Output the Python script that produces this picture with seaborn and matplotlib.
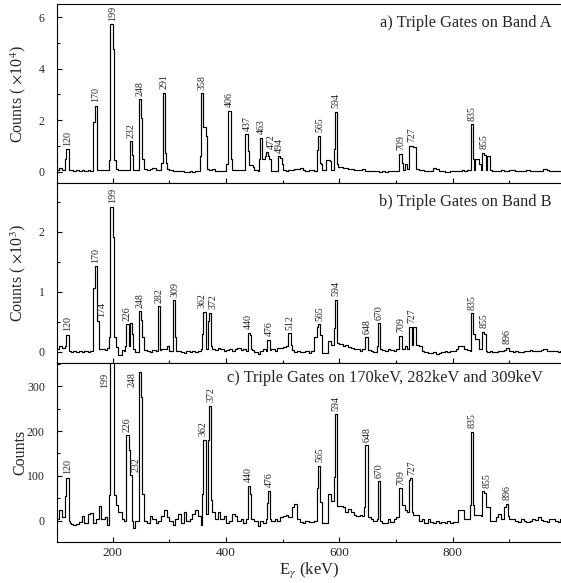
import numpy as np
import matplotlib
matplotlib.use("Agg")
import matplotlib.pyplot as plt
import seaborn as sns
from matplotlib.ticker import MultipleLocator, NullFormatter

# ---------------------------------------------------------------- data
bg_start_keV = 100      # background read in 5-keV blocks, 100 ... 990 keV
bg_step_keV = 5

# panel a  (counts x 10^4)
a_background = [
    0.05, 0.16, 0.08, 0.06, 0.06, 0.05, 0.04, 0.05, 0.04, 0.05,
    0.04, 0.05, 0.04, 0.05, 0.06, 0.08, 0.06, 0.05, 0.06, 0.45,
    0.45, 0.10, 0.08, 0.06, 0.07, 0.06, 0.10, 0.08, 0.07, 0.10,
    0.50, 0.12, 0.08, 0.10, 0.16, 0.06, 0.05, 0.08, 0.35, 0.10,
    0.05, 0.04, 0.03, 0.02, 0.01, 0.00, 0.00, 0.01, 0.00, 0.01,
    0.02, 0.05, 0.15, 0.10, 0.08, 0.10, 0.04, 0.03, 0.03, 0.02,
    0.30, 0.06, 0.08, 0.05, 0.06, 0.05, 0.06, 0.35, 0.25, 0.20,
    0.06, 0.04, 0.50, 0.50, 0.60, 0.50, 0.04, 0.03, 0.04, 0.30,
    0.05, 0.04, 0.05, 0.05, 0.10, 0.12, 0.15, 0.05, 0.04, 0.06,
    0.05, 0.04, 0.20, 0.30, 0.06, 0.45, 0.40, 0.06, 0.30, 0.20,
    0.18, 0.15, 0.14, 0.12, 0.10, 0.08, 0.06, 0.05, 0.12, 0.04,
    0.02, 0.03, 0.02, 0.01, 0.00, 0.01, 0.00, 0.01, 0.02, 0.03,
    0.04, 0.06, 0.08, 0.30, 0.10, 0.10, 0.95, 0.12, 0.06, 0.05,
    0.04, 0.03, 0.04, 0.15, 0.12, 0.03, 0.01, 0.00, 0.00, 0.01,
    0.02, 0.03, 0.04, 0.05, 0.04, 0.05, 0.06, 0.06, 0.50, 0.30,
    0.06, 0.05, 0.60, 0.06, 0.04, 0.03, 0.04, 0.05, 0.03, 0.04,
    0.06, 0.05, 0.04, 0.03, 0.04, 0.03, 0.05, 0.04, 0.03, 0.04,
    0.03, 0.04, 0.10, 0.06, 0.04, 0.03, 0.04, 0.03, 0.04,
]
a_peak_keV   = [120, 170, 199, 232, 248, 291, 358, 362, 406, 437, 447, 463, 472, 494, 565, 582, 594, 709, 727, 835, 855]
a_peak_top   = [0.87, 2.56, 5.73, 1.18, 2.81, 3.07, 3.04, 1.72, 2.37, 1.46, 0.26, 1.31, 0.76, 0.60, 1.39, 0.45, 2.32, 0.69, 1.00, 1.85, 0.74]
a_peak_left  = [0.50, 1.94, 0.45, 0.00, 0.00, 0.35, 0.60, 0.00, 0.30, 0.00, 0.00, 0.50, 0.60, 0.00, 0.84, 0.00, 0.87, 0.00, 1.00, 0.00, 0.00]
a_peak_right = [0.00, 0.00, 4.77, 0.65, 2.07, 0.74, 1.72, 1.40, 0.48, 0.80, 0.00, 0.00, 0.60, 0.55, 0.35, 0.00, 0.30, 0.35, 1.00, 0.50, 0.65]
a_labels = [120, 170, 199, 232, 248, 291, 358, 406, 437, 463, 472, 494, 565, 594, 709, 727, 835, 855]

# panel b  (counts x 10^3)
b_background = [
    0.04, 0.10, 0.06, 0.08, 0.01, 0.00, 0.02, -0.01, 0.01, 0.00,
    0.01, -0.01, 0.02, 0.03, 0.04, 0.05, 0.05, 0.03, 0.06, 0.25,
    0.25, 0.08, -0.05, 0.03, 0.01, 0.02, 0.03, 0.05, 0.00, 0.03,
    0.25, 0.03, 0.02, 0.00, 0.03, 0.01, 0.03, 0.05, 0.04, 0.10,
    0.02, 0.03, 0.02, 0.02, 0.00, -0.02, 0.01, -0.01, 0.02, 0.00,
    0.01, 0.05, 0.05, 0.05, 0.08, 0.04, 0.03, 0.06, 0.04, 0.02,
    0.03, 0.05, 0.02, 0.04, 0.07, 0.03, 0.05, 0.02, 0.05, 0.03,
    0.00, -0.03, 0.02, 0.04, 0.02, 0.03, 0.05, 0.01, 0.06, 0.07,
    0.08, 0.10, 0.12, 0.03, 0.00, 0.01, -0.01, 0.00, 0.02, -0.02,
    0.01, 0.25, 0.40, 0.28, -0.02, -0.02, 0.18, 0.12, 0.40, 0.15,
    0.13, 0.10, 0.11, 0.08, 0.06, 0.05, 0.04, 0.02, 0.05, 0.03,
    0.03, 0.02, 0.00, 0.03, 0.05, 0.03, 0.02, 0.05, 0.03, 0.02,
    0.04, 0.03, 0.05, 0.10, 0.04, 0.05, 0.42, 0.12, 0.10, 0.02,
    0.00, -0.02, -0.02, 0.00, -0.03, -0.02, 0.00, 0.01, 0.00, 0.01,
    0.02, 0.05, 0.10, 0.10, 0.04, 0.03, 0.02, 0.30, 0.22, 0.05,
    0.05, 0.02, 0.00, 0.01, -0.01, 0.00, 0.01, 0.02, 0.03, 0.06,
    0.02, 0.00, 0.01, -0.01, 0.00, 0.02, 0.01, 0.03, 0.02, 0.01,
    0.02, 0.03, 0.05, 0.02, 0.01, 0.02, 0.01, 0.00, 0.01,
]
b_peak_keV   = [120, 170, 174, 199, 226, 232, 248, 282, 309, 362, 372, 440, 476, 512, 565, 594, 648, 670, 709, 727, 835, 855, 896]
b_peak_top   = [0.28, 1.43, 0.52, 2.42, 0.46, 0.48, 0.68, 0.76, 0.86, 0.67, 0.65, 0.32, 0.20, 0.31, 0.46, 0.87, 0.24, 0.48, 0.27, 0.42, 0.64, 0.33, 0.07]
b_peak_left  = [0.10, 1.07, 0.00, 0.25, 0.10, 0.00, 0.00, 0.00, 0.00, 0.30, 0.51, 0.00, 0.20, 0.00, 0.42, 0.40, 0.00, 0.10, 0.00, 0.42, 0.00, 0.00, 0.00]
b_peak_right = [0.00, 0.00, 0.00, 1.92, 0.10, 0.30, 0.53, 0.00, 0.25, 0.00, 0.10, 0.28, 0.00, 0.00, 0.28, 0.15, 0.00, 0.00, 0.00, 0.12, 0.30, 0.30, 0.00]
b_labels = [120, 170, 174, 199, 226, 248, 282, 309, 362, 372, 440, 476, 512, 565, 594, 648, 670, 709, 727, 835, 855, 896]

# panel c  (counts)
c_background = [
    5, 25, 8, 5, -5, -8, -10, -6, -3, 10,
    -5, 15, 18, -5, 5, 33, 5, 8, -10, 57,
    57, 35, 20, 5, 0, 5, 0, -15, 0, 10,
    60, 0, -5, 10, 5, -5, 0, 10, 25, 8,
    0, -10, 5, 15, -5, 20, 0, 5, 15, 25,
    10, -10, 15, 15, 40, 20, 5, 20, 5, 10,
    -5, 0, 15, 10, 0, 5, -5, 5, 5, 5,
    0, -12, 0, -5, 5, 5, 0, 5, 0, 8,
    10, 12, 8, 30, 37, 5, -3, -5, 0, -3,
    -2, 0, 10, 42, -5, -5, 60, 45, 20, 33,
    33, 30, 20, 27, 20, 12, 10, 12, 10, 9,
    9, 5, 0, 5, 0, -5, -5, 3, -2, 5,
    9, 9, 35, 24, 20, 20, 12, 12, 0, 5,
    -5, 3, -3, -5, 0, -5, -3, -5, 0, -4,
    -2, -3, 25, 25, 3, 3, 12, 12, 12, 12,
    10, 30, 30, 0, 0, 8, 15, 5, 31, 10,
    5, 3, 0, -2, 3, 0, -3, 0, 5, 2,
    8, 2, 0, -2, 5, 3, 0, -2, 3,
]
c_peak_keV   = [120, 199, 226, 232, 248, 362, 372, 440, 476, 565, 594, 648, 670, 709, 727, 835, 855, 896]
c_peak_top   = [96, 600, 191, 101, 332, 181, 256, 78, 67, 123, 237, 168, 88, 73, 95, 198, 66, 38]
c_peak_left  = [55, 57, 0, 0, 0, 60, 179, 0, 40, 74, 98, 31, 0, 0, 90, 35, 0, 31]
c_peak_right = [0, 500, 157, 0, 277, 0, 46, 60, 0, 42, 33, 0, 0, 35, 12, 35, 62, 0]
c_labels = [120, 199, 226, 232, 248, 362, 372, 440, 476, 565, 594, 648, 670, 709, 727, 835, 855, 896]

titles = ["a) Triple Gates on Band A",
          "b) Triple Gates on Band B",
          "c) Triple Gates on 170keV, 282keV and 309keV"]
ylabels = ["Counts ( $\\times$10$^{4}$)", "Counts ( $\\times$10$^{3}$)", "Counts"]

# ---------------------------------------------------------------- style
sns.set_theme(style="ticks")
plt.rcParams["font.family"] = ["Liberation Serif", "DejaVu Serif"]
plt.rcParams["mathtext.fontset"] = "stix"
plt.rcParams["xtick.direction"] = "in"
plt.rcParams["ytick.direction"] = "in"

BIN = 2
grid = np.arange(100, 992, BIN)
LABEL_FS = 7.2


def build(bg, keV, top, left, right):
    idx = np.minimum((grid - bg_start_keV) // bg_step_keV, len(bg) - 1).astype(int)
    y = np.asarray(bg, float)[idx]

    def put(e, v):
        i = int((e - grid[0]) // BIN)
        if 0 <= i < len(y):
            y[i] = max(y[i], v)

    for k, t, l, r in zip(keV, top, left, right):
        put(k - 4, l)
        put(k - 2, t)
        put(k, t)
        put(k + 2, r)
    return y


panels = [
    dict(y=build(a_background, a_peak_keV, a_peak_top, a_peak_left, a_peak_right),
         labels=a_labels, ylim=(-0.45, 6.5), major=2, minor=1, nudge={472: 3.2, 463: -0.5}),
    dict(y=build(b_background, b_peak_keV, b_peak_top, b_peak_left, b_peak_right),
         labels=b_labels, ylim=(-0.18, 2.81), major=1, minor=0.5,
         nudge={174: 2.8, 362: -1.6, 372: 1.8}),
    dict(y=build(c_background, c_peak_keV, c_peak_top, c_peak_left, c_peak_right),
         labels=c_labels, ylim=(-46.6, 352.5), major=100, minor=50,
         nudge={232: 3.8, 855: 2.2, 362: -0.8, 372: 0.8}),
]

fig = plt.figure(figsize=(5.61, 5.83), dpi=100)
left, width = 0.101, 0.899
bottoms = [0.6856, 0.3782, 0.0708]
height = 0.3072
title_pos = [(0.982, 0.896), (0.982, 0.896), (0.964, 0.913)]

for p, (panel, bottom) in enumerate(zip(panels, bottoms)):
    ax = fig.add_axes([left, bottom, width, height])
    sns.lineplot(x=grid + BIN / 2, y=panel["y"], ax=ax, color="black", linewidth=0.85,
                 drawstyle="steps-mid", estimator=None, errorbar=None)
    ax.set_xlim(101, 991)
    ax.set_ylim(*panel["ylim"])
    ax.xaxis.set_major_locator(MultipleLocator(200))
    ax.xaxis.set_minor_locator(MultipleLocator(100))
    ax.yaxis.set_major_locator(MultipleLocator(panel["major"]))
    ax.yaxis.set_minor_locator(MultipleLocator(panel["minor"]))
    ax.tick_params(which="major", length=3.5, width=0.8, color="black")
    ax.tick_params(which="minor", length=2.0, width=0.8, color="black")
    ax.tick_params(axis="y", labelsize=8.5, pad=8.5)
    ax.tick_params(axis="x", labelsize=9.5, pad=4)
    for s in ["left", "bottom", "top"]:
        ax.spines[s].set_linewidth(0.8)
        ax.spines[s].set_color("black")
    ax.spines["right"].set_visible(False)
    ax.tick_params(top=False, right=False)
    if p < 2:
        ax.xaxis.set_major_formatter(NullFormatter())
        ax.set_xlabel("")
    else:
        ax.set_xlabel("E$_{\\gamma}$ (keV)", fontsize=12)
        ax.xaxis.set_label_coords(0.5, -0.105)
    ax.set_ylabel(ylabels[p], fontsize=11.5)
    ax.yaxis.set_label_coords(-0.057, 0.5)
    ax.text(title_pos[p][0], title_pos[p][1], titles[p], transform=ax.transAxes,
            ha="right", va="center", fontsize=11.8)

    # peak labels
    ybot, ytop = panel["ylim"]
    px_per_unit = ax.transData.transform((0, 1))[1] - ax.transData.transform((0, 0))[1]
    y = panel["y"]
    for L in panel["labels"]:
        sel = (grid >= L - 3) & (grid <= L + 1)
        h = y[sel].max()
        dx = panel["nudge"].get(L, 0.0)
        if (ytop - h) * px_per_unit < 18:
            yy = min(h, ytop - 0.055 * (ytop - ybot))
            ax.annotate(str(L), xy=(L, yy), xytext=(-2.5, 0), textcoords="offset points",
                        rotation=90, ha="right", va="top", fontsize=LABEL_FS)
        else:
            ax.annotate(str(L), xy=(L, h), xytext=(dx, 2.5), textcoords="offset points",
                        rotation=90, ha="center", va="bottom", fontsize=LABEL_FS,
                        annotation_clip=False)

fig.savefig("out.png", dpi=100)
